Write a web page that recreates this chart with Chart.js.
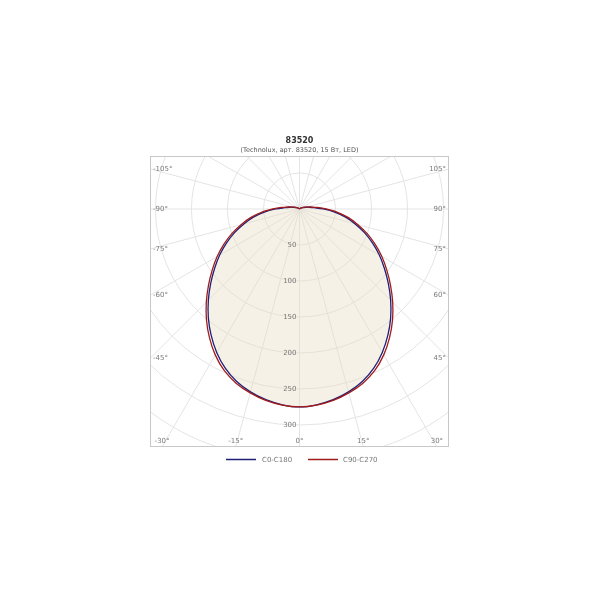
<!DOCTYPE html>
<html>
<head>
<meta charset="utf-8">
<script src="https://cdn.jsdelivr.net/npm/chart.js@4.4.1/dist/chart.umd.min.js"></script>
<style>
  html, body { margin: 0; padding: 0; background: #fff; }
</style>
</head>
<body>
<canvas id="chart" width="600" height="600"></canvas>
<script>
// gamma angles (deg from nadir) and luminous intensity, cd
const angles = [0, 5, 10, 15, 20, 25, 30, 35, 40, 45, 50, 55, 60, 65, 70, 75, 80, 85, 90,
                95, 100, 105, 110, 115, 120, 125, 130, 135, 140, 150, 160, 170, 180];
const c0c180 = [275, 273, 269, 263, 255, 244, 230, 214, 197, 179, 161, 144, 128, 112, 96, 80, 65, 49, 33,
                21, 14, 9, 6, 4, 3, 2, 1, 0, 0, 0, 0, 0, 0];
const c90c270 = [275, 273.5, 270, 264.5, 257.5, 247.5, 234, 218, 201, 183, 165, 148, 132, 116, 100, 84, 69, 53, 37,
                 25, 16, 11, 7, 5, 3, 2, 1, 0, 0, 0, 0, 0, 0];
const radialTicks = [50, 100, 150, 200, 250, 300];
const angleTicks = [-105, -90, -75, -60, -45, -30, -15, 0, 15, 30, 45, 60, 75, 90, 105];

const titleText = '83520';
const subtitleText = '(Technolux, apт. 83520, 15 Вт, LED)';
const seriesNames = ['C0-C180', 'C90-C270'];
const seriesColors = ['#1f1f78', '#a01c1c'];

const FONT = '"DejaVu Sans", sans-serif';

// polar -> cartesian in data units (y up, nadir is negative y)
function toPoints(values) {
    const pts = [];
    for (let i = angles.length - 1; i >= 0; i--) {
        const a = angles[i] * Math.PI / 180;
        pts.push({ x: -values[i] * Math.sin(a), y: -values[i] * Math.cos(a) });
    }
    for (let i = 1; i < angles.length; i++) {
        const a = angles[i] * Math.PI / 180;
        pts.push({ x: values[i] * Math.sin(a), y: -values[i] * Math.cos(a) });
    }
    return pts;
}

const polarGrid = {
    id: 'polarGrid',
    beforeDatasetsDraw(chart) {
        const { ctx, chartArea, scales } = chart;
        const cx = scales.x.getPixelForValue(0);
        const cy = scales.y.getPixelForValue(0);
        const k = scales.x.getPixelForValue(1) - cx;

        ctx.save();
        ctx.beginPath();
        ctx.rect(chartArea.left, chartArea.top, chartArea.width, chartArea.height);
        ctx.clip();
        ctx.strokeStyle = '#e4e4e4';
        ctx.lineWidth = 1;

        for (let r = 50; r <= 600; r += 50) {
            ctx.beginPath();
            ctx.arc(cx, cy, r * k, 0, Math.PI * 2);
            ctx.stroke();
        }
        for (let a = 0; a < 360; a += 15) {
            const t = a * Math.PI / 180;
            ctx.beginPath();
            ctx.moveTo(cx, cy);
            ctx.lineTo(cx + 800 * Math.sin(t), cy + 800 * Math.cos(t));
            ctx.stroke();
        }
        ctx.restore();
    },
    afterDatasetsDraw(chart) {
        const { ctx, chartArea, scales } = chart;
        const cx = scales.x.getPixelForValue(0);
        const cy = scales.y.getPixelForValue(0);
        const { left, right, top, bottom } = chartArea;

        ctx.save();
        ctx.strokeStyle = '#c8c8c8';
        ctx.lineWidth = 1;
        ctx.strokeRect(left + 0.5, top + 0.5, right - left - 1, bottom - top - 1);

        ctx.font = '7px ' + FONT;
        ctx.fillStyle = '#7a7a7a';
        ctx.textBaseline = 'middle';

        // radial value labels along the nadir axis
        ctx.textAlign = 'right';
        radialTicks.forEach(v => {
            ctx.fillText(String(v), cx - 3, scales.y.getPixelForValue(-v));
        });

        // angle labels where each ray meets the frame
        angleTicks.forEach(a => {
            const t = a * Math.PI / 180;
            const dx = Math.sin(t), dy = Math.cos(t);
            let best = Infinity, edge = '';
            if (dx < -1e-6) { const s = (left - cx) / dx; if (s < best) { best = s; edge = 'left'; } }
            if (dx > 1e-6) { const s = (right - cx) / dx; if (s < best) { best = s; edge = 'right'; } }
            if (dy > 1e-6) { const s = (bottom - cy) / dy; if (s < best) { best = s; edge = 'bottom'; } }
            if (dy < -1e-6) { const s = (top - cy) / dy; if (s < best) { best = s; edge = 'top'; } }
            const px = cx + best * dx, py = cy + best * dy;
            const label = a + '°';
            if (edge === 'left') {
                ctx.textAlign = 'left';
                ctx.fillText(label, left + 3, py);
            } else if (edge === 'right') {
                ctx.textAlign = 'right';
                ctx.fillText(label, right - 3, py);
            } else {
                ctx.textAlign = 'center';
                ctx.fillText(label, px, bottom - 6);
            }
        });

        // title
        ctx.textAlign = 'center';
        ctx.fillStyle = '#333';
        ctx.font = 'bold 8px ' + FONT;
        ctx.fillText(titleText, cx, 141);
        ctx.font = '6.5px ' + FONT;
        ctx.fillStyle = '#555';
        ctx.fillText(subtitleText, cx, 150);

        // legend
        const items = [{ x: 226, tx: 262 }, { x: 308, tx: 343 }];
        ctx.font = '7px ' + FONT;
        ctx.textAlign = 'left';
        items.forEach((it, i) => {
            ctx.strokeStyle = seriesColors[i];
            ctx.lineWidth = 1.5;
            ctx.beginPath();
            ctx.moveTo(it.x, 459.5);
            ctx.lineTo(it.x + 30, 459.5);
            ctx.stroke();
            ctx.fillStyle = '#777';
            ctx.fillText(seriesNames[i], it.tx, 460);
        });
        ctx.restore();
    }
};

new Chart(document.getElementById('chart'), {
    type: 'scatter',
    data: {
        datasets: [{
            label: seriesNames[1],
            data: toPoints(c90c270),
            showLine: true,
            borderColor: seriesColors[1],
            borderWidth: 1.3,
            pointRadius: 0,
            tension: 0.3,
            fill: false
        }, {
            label: seriesNames[0],
            data: toPoints(c0c180),
            showLine: true,
            borderColor: seriesColors[0],
            borderWidth: 1.3,
            pointRadius: 0,
            tension: 0.3,
            fill: 'shape',
            backgroundColor: 'rgba(232, 220, 192, 0.4)'
        }]
    },
    options: {
        responsive: false,
        devicePixelRatio: 1,
        animation: false,
        layout: { padding: { left: 150, right: 151, top: 156, bottom: 153 } },
        scales: {
            x: { type: 'linear', display: false, min: -207.6, max: 207.6 },
            y: { type: 'linear', display: false, min: -330.6, max: 73.6 }
        },
        plugins: {
            legend: { display: false },
            title: { display: false },
            tooltip: { enabled: false }
        }
    },
    plugins: [polarGrid]
});
</script>
</body>
</html>
